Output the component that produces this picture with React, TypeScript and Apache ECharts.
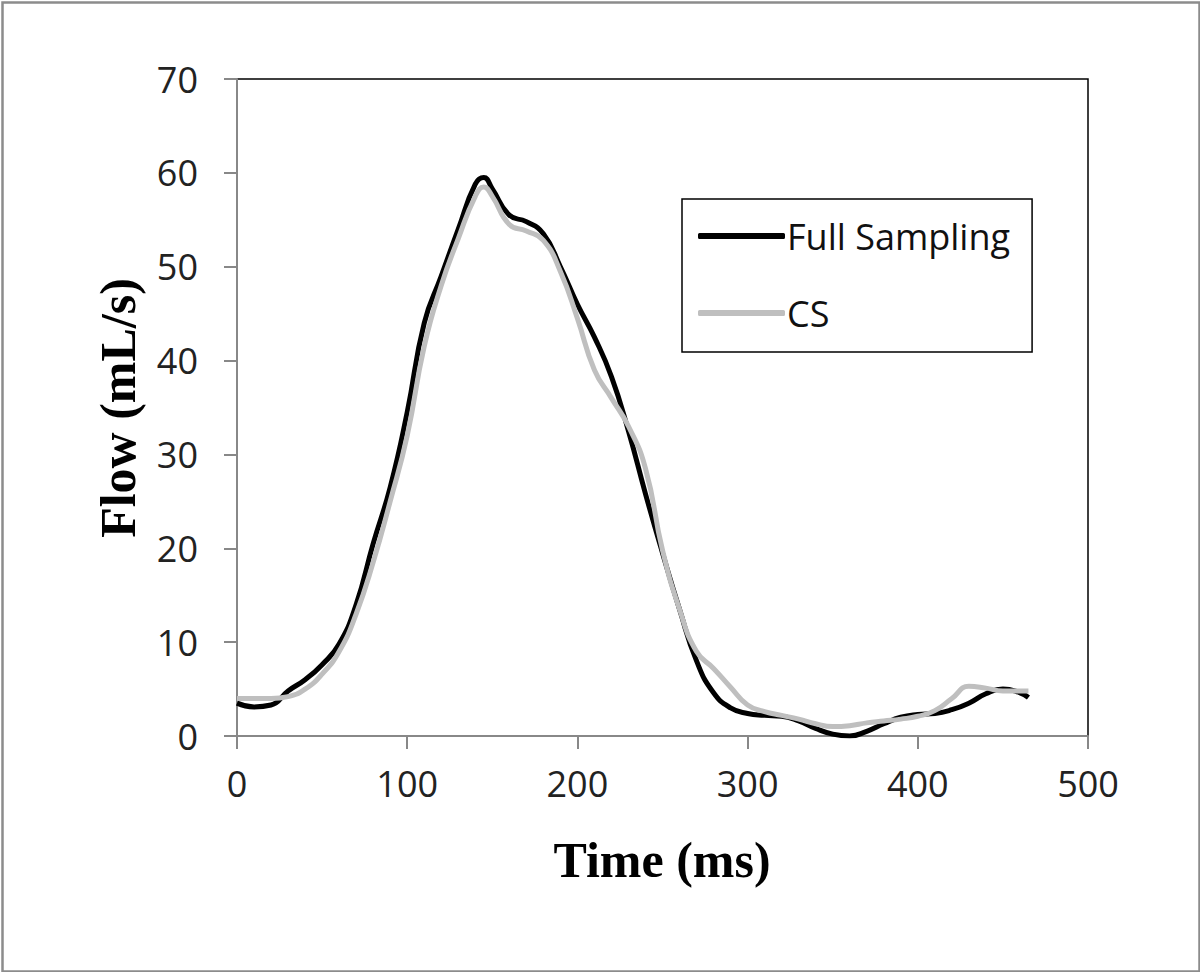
import React, { useEffect, useRef } from "react";
import * as echarts from "echarts";

const timeMs = [0, 10, 20, 30, 40, 50, 60, 70, 80, 90, 100, 110, 120, 130, 140, 145, 150, 160, 170, 180, 190, 200, 210, 220, 230, 240, 250, 260, 270, 280, 290, 300, 310, 320, 330, 340, 350, 360, 370, 380, 390, 400, 410, 420, 430, 440, 450, 460, 465];

const fullSampling = [3.5, 3.1, 3.3, 4.8, 6.0, 7.6, 9.8, 14.0, 20.5, 26.5, 34.5, 44.0, 49.0, 54.0, 58.8, 59.5, 58.3, 55.5, 54.8, 53.5, 50.0, 46.0, 42.5, 38.3, 32.5, 25.8, 19.5, 13.5, 8.0, 4.6, 3.0, 2.4, 2.2, 2.1, 1.6, 0.8, 0.2, 0.0, 0.5, 1.3, 2.0, 2.3, 2.4, 2.8, 3.5, 4.5, 5.0, 4.6, 4.1];

const cs = [4.0, 4.0, 4.0, 4.2, 5.0, 6.6, 9.0, 13.0, 18.5, 25.0, 32.0, 41.5, 48.0, 53.0, 57.5, 58.5, 57.5, 54.5, 53.8, 52.8, 49.5, 44.5, 39.0, 36.0, 33.0, 28.5, 19.8, 13.5, 9.0, 7.2, 5.2, 3.3, 2.6, 2.2, 1.8, 1.3, 1.0, 1.1, 1.4, 1.6, 1.8, 2.1, 2.7, 4.0, 5.3, 5.1, 4.8, 4.8, 4.8];

const seriesNames = ["Full Sampling", "CS"];
const xTitle = "Time (ms)";
const yTitle = "Flow (mL/s)";

export default function App() {
  const ref = useRef<HTMLDivElement>(null);
  useEffect(() => {
    document.body.style.margin = "0";
    if (!ref.current) return;
    const chart = echarts.init(ref.current, null, { renderer: "svg" });
    const labelFont = "'Open Sans', 'Noto Sans', sans-serif";
    chart.setOption({
      animation: false,
      backgroundColor: "#ffffff",
      grid: {
        left: 237,
        right: 112,
        top: 79,
        bottom: 236,
        show: true,
        borderColor: "#000",
        borderWidth: 1.5,
        backgroundColor: "transparent",
      },
      xAxis: {
        type: "value",
        min: 0,
        max: 500,
        interval: 100,
        axisLine: { show: true, onZero: false, lineStyle: { color: "#888", width: 2 } },
        axisTick: { show: true, inside: false, length: 13, lineStyle: { color: "#888", width: 2 } },
        axisLabel: { color: "#222", fontSize: 36, fontFamily: labelFont, margin: 29 },
        splitLine: { show: false },
      },
      yAxis: {
        type: "value",
        min: 0,
        max: 70,
        interval: 10,
        axisLine: { show: true, lineStyle: { color: "#888", width: 2 } },
        axisTick: { show: true, inside: false, length: 13, lineStyle: { color: "#888", width: 2 } },
        axisLabel: { color: "#222", fontSize: 36, fontFamily: labelFont, margin: 39 },
        splitLine: { show: false },
      },
      legend: {
        orient: "vertical",
        left: 682,
        top: 199,
        padding: [19, 22, 21, 16],
        itemGap: 41,
        itemWidth: 87,
        itemHeight: 6,
        icon: "roundRect",
        borderColor: "#000",
        borderWidth: 1.5,
        backgroundColor: "#fff",
        textStyle: { fontSize: 36, color: "#111", fontFamily: labelFont, padding: [0, 0, 0, -3] },
        data: seriesNames,
      },
      graphic: [
        {
          type: "rect",
          left: 0,
          top: 0,
          shape: { x: 1, y: 1, width: 1197, height: 969 },
          style: { fill: "none", stroke: "#8c8c8c", lineWidth: 2.5 },
          silent: true,
        },
        {
          type: "text",
          x: 662,
          y: 860,
          style: {
            text: xTitle,
            font: "bold 50px 'Liberation Serif', 'DejaVu Serif', serif",
            fill: "#000",
            align: "center",
            verticalAlign: "middle",
          },
        },
        {
          type: "text",
          x: 118,
          y: 408,
          rotation: Math.PI / 2,
          style: {
            text: yTitle,
            font: "bold 50px 'Liberation Serif', 'DejaVu Serif', serif",
            fill: "#000",
            align: "center",
            verticalAlign: "middle",
          },
        },
      ],
      series: [
        {
          name: seriesNames[0],
          type: "line",
          data: timeMs.map((t, i) => [t, fullSampling[i]]),
          smooth: 0.5,
          showSymbol: false,
          lineStyle: { color: "#000", width: 5 },
          itemStyle: { color: "#000" },
        },
        {
          name: seriesNames[1],
          type: "line",
          data: timeMs.map((t, i) => [t, cs[i]]),
          smooth: 0.5,
          showSymbol: false,
          lineStyle: { color: "#bfbfbf", width: 5 },
          itemStyle: { color: "#bfbfbf" },
        },
      ],
    });
    return () => chart.dispose();
  }, []);
  return <div ref={ref} style={{ width: 1200, height: 972 }} />;
}
